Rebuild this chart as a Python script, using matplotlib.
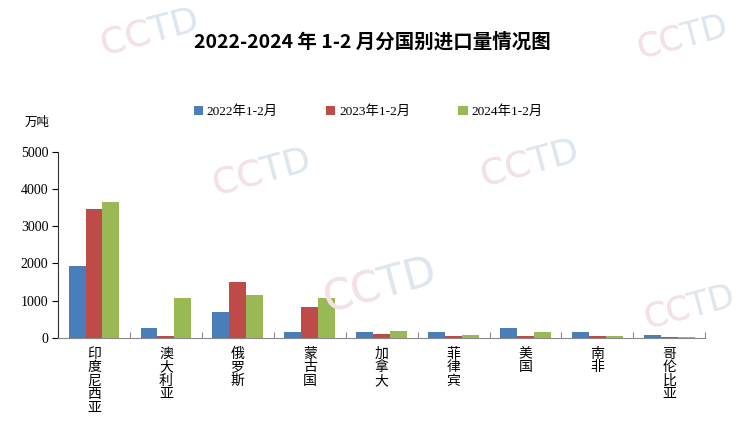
import numpy as np
import matplotlib.pyplot as plt

plt.rcParams['font.family'] = ['Noto Sans CJK SC', 'DejaVu Sans']
serif = ['Liberation Serif', 'Noto Sans CJK SC']

countries = ['印度尼西亚', '澳大利亚', '俄罗斯', '蒙古国', '加拿大', '菲律宾', '美国', '南非', '哥伦比亚']
v2022 = [1920, 250, 690, 150, 150, 140, 260, 140, 70]
v2023 = [3480, 50, 1490, 820, 100, 30, 30, 40, 10]
v2024 = [3650, 1080, 1160, 1060, 190, 70, 150, 30, 20]
series_names = ['2022年1-2月', '2023年1-2月', '2024年1-2月']
colors = ['#4a7ebb', '#be4b48', '#98b954']

fig = plt.figure(figsize=(7.44, 4.22), dpi=100)
ax = fig.add_axes([0.078, 0.2, 0.87, 0.439])

# faint CCTD watermarks
for (wx, wy, fs) in [(0.14, 0.87, 26), (0.29, 0.54, 26), (0.65, 0.56, 26),
                     (0.44, 0.26, 30), (0.86, 0.86, 24), (0.87, 0.22, 24)]:
    fig.text(wx, wy, 'CCTD', fontsize=fs, color='#dde5ee', rotation=15,
             rotation_mode='anchor', ha='left', va='baseline', family='DejaVu Sans', zorder=0)
    fig.text(wx, wy, 'CC', fontsize=fs, color='#f7e0e3', rotation=15,
             rotation_mode='anchor', ha='left', va='baseline', family='DejaVu Sans', zorder=0)

x = np.arange(len(countries))
w = 0.235
handles = []
for i, (vals, name) in enumerate(zip([v2022, v2023, v2024], series_names)):
    h = ax.bar(x + (i - 1) * w, vals, w, color=colors[i], label=name, zorder=3)
    handles.append(h)

ax.patch.set_alpha(0)
ax.set_xlim(-0.5, len(countries) - 0.5)
ax.set_ylim(0, 5000)
ax.set_yticks([0, 1000, 2000, 3000, 4000, 5000])
ax.tick_params(axis='y', direction='out', length=4, labelsize=10, pad=3)
for lbl in ax.get_yticklabels():
    lbl.set_family(serif)
for s in ['top', 'right']:
    ax.spines[s].set_visible(False)
ax.spines['left'].set_color('#333333')
ax.spines['bottom'].set_color('#888888')

ax.set_xticks(np.arange(len(countries) + 1) - 0.5, minor=False)
ax.set_xticklabels([])
ax.tick_params(axis='x', direction='in', length=4, color='#888888')
for i, c in enumerate(countries):
    ax.text(i, -0.05, '\n'.join(c), transform=ax.get_xaxis_transform(),
            ha='center', va='top', fontsize=10, linespacing=0.95)

fig.text(37 / 744, 1 - 122 / 422, '万吨', fontsize=9, ha='center', va='center')
fig.text(0.5, 1 - 42 / 422, '2022-2024 年 1-2 月分国别进口量情况图', fontsize=14,
         fontweight='bold', ha='center', va='center')

fig.legend(handles=handles, labels=series_names, loc='center', bbox_to_anchor=(0.495, 1 - 112 / 422),
           ncol=3, frameon=False, prop={'family': serif, 'size': 9.6}, handlelength=0.7,
           handleheight=0.7, handletextpad=0.3, columnspacing=3.6)

fig.savefig('out.png', dpi=100)
